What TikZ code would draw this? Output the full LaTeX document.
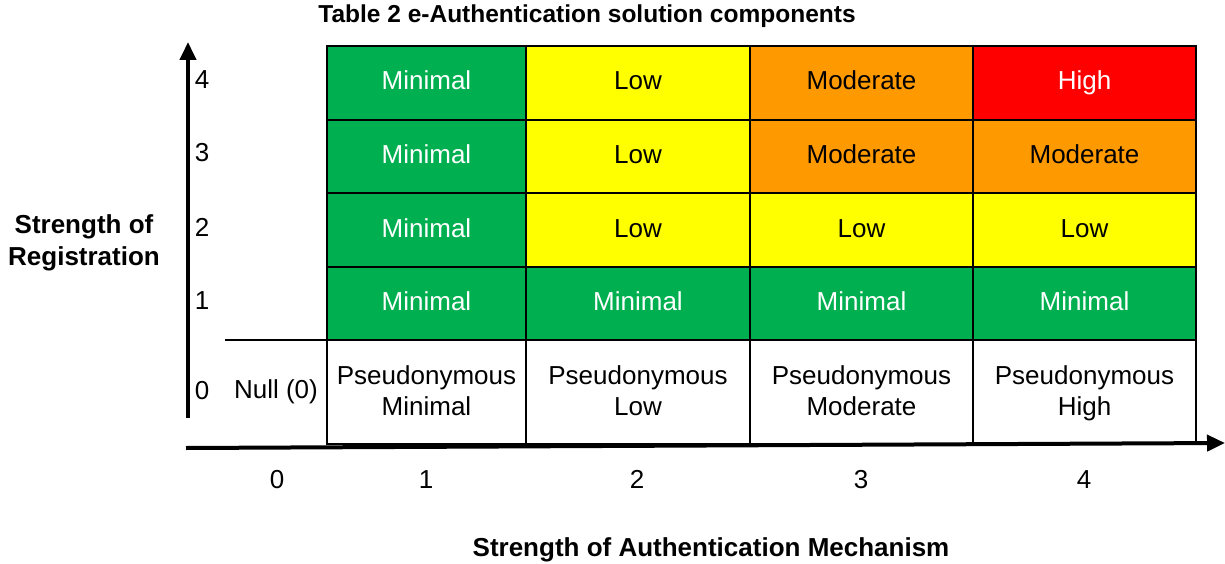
\documentclass[tikz,border=0pt]{standalone}
\usepackage{fontspec}
\setmainfont{Liberation Sans}
\usetikzlibrary{arrows.meta}
\definecolor{cgreen}{HTML}{00B050}
\definecolor{cyellow}{HTML}{FFFF00}
\definecolor{corange}{HTML}{FF9900}
\definecolor{cred}{HTML}{FF0000}
\begin{document}
\begin{tikzpicture}[x=1pt,y=-1pt,
  txt/.style={font=\fontsize{26}{31}\selectfont, inner sep=0pt, text height=19pt, text depth=5pt},
  bold/.style={font=\fontsize{26}{32}\selectfont\bfseries, inner sep=0pt, align=center},
  cell/.style={draw=black, line width=2.5pt, outer sep=0pt, inner sep=0pt, font=\fontsize{26}{31}\selectfont},
  one/.style={text height=19pt, text depth=5pt},
  gcell/.style={cell, one, fill=cgreen, text=white},
  ycell/.style={cell, one, fill=cyellow, text=black},
  ocell/.style={cell, one, fill=corange, text=black},
  rcell/.style={cell, one, fill=cred, text=white},
  wcell/.style={cell, fill=white, text=black, align=center, text depth=2pt},
  c1/.style={minimum width=199pt},
  c2/.style={minimum width=224pt},
  c3/.style={minimum width=223pt},
  c4/.style={minimum width=223pt},
  r74/.style={minimum height=74pt},
  r73/.style={minimum height=73pt},
  r104/.style={minimum height=104pt},
  axis/.style={line width=4pt, -{Triangle[width=16pt,length=18pt]}},
  thin/.style={line width=2.5pt}
]
\useasboundingbox (0,0) rectangle (1225,564);

% row 4
\node[gcell,c1,r74] (a41) at (426.5,83) {Minimal};
\node[ycell,c2,r74] (a42) at (638,83) {Low};
\node[ocell,c3,r74] (a43) at (861.5,83) {Moderate};
\node[rcell,c4,r74] (a44) at (1084.5,83) {High};
% row 3
\node[gcell,c1,r73] (a31) at (426.5,156.5) {Minimal};
\node[ycell,c2,r73] (a32) at (638,156.5) {Low};
\node[ocell,c3,r73] (a33) at (861.5,156.5) {Moderate};
\node[ocell,c4,r73] (a34) at (1084.5,156.5) {Moderate};
% row 2
\node[gcell,c1,r74] (a21) at (426.5,230) {Minimal};
\node[ycell,c2,r74] (a22) at (638,230) {Low};
\node[ycell,c3,r74] (a23) at (861.5,230) {Low};
\node[ycell,c4,r74] (a24) at (1084.5,230) {Low};
% row 1
\node[gcell,c1,r73] (a11) at (426.5,303.5) {Minimal};
\node[gcell,c2,r73] (a12) at (638,303.5) {Minimal};
\node[gcell,c3,r73] (a13) at (861.5,303.5) {Minimal};
\node[gcell,c4,r73] (a14) at (1084.5,303.5) {Minimal};
% row 0
\node[wcell,c1,r104] (a01) at (426.5,392) {Pseudonymous\\Minimal};
\node[wcell,c2,r104] (a02) at (638,392) {Pseudonymous\\Low};
\node[wcell,c3,r104] (a03) at (861.5,392) {Pseudonymous\\Moderate};
\node[wcell,c4,r104] (a04) at (1084.5,392) {Pseudonymous\\High};

% null cell
\coordinate (nl) at (225,340);
\draw[thin] (nl) -- (a01.north west);
\node[txt] (null) at (276,391) {Null (0)};

% axes
\coordinate (yb) at (188,418);
\coordinate (yt) at (188,42);
\coordinate (xb) at (186,448);
\coordinate (xe) at (1225,443);
\draw[axis] (yb) -- (yt);
\draw[axis] (xb) -- (xe);

% y ticks
\node[txt] (y4) at (202,82) {4};
\node[txt] (y3) at (202,155) {3};
\node[txt] (y2) at (202,229) {2};
\node[txt] (y1) at (202,302) {1};
\node[txt] (y0) at (202,392) {0};
% x ticks
\node[txt] (x0) at (277,481) {0};
\node[txt] (x1) at (426,481) {1};
\node[txt] (x2) at (637,481) {2};
\node[txt] (x3) at (861,481) {3};
\node[txt] (x4) at (1084,481) {4};

% labels
\node[bold, font=\fontsize{24.5}{30}\selectfont\bfseries] (title) at (587,16) {Table 2 e-Authentication solution components};
\node[bold] (ylab) at (84,243) {Strength of\\Registration};
\node[bold] (xlab) at (711,550) {Strength of Authentication Mechanism};
\end{tikzpicture}
\end{document}
